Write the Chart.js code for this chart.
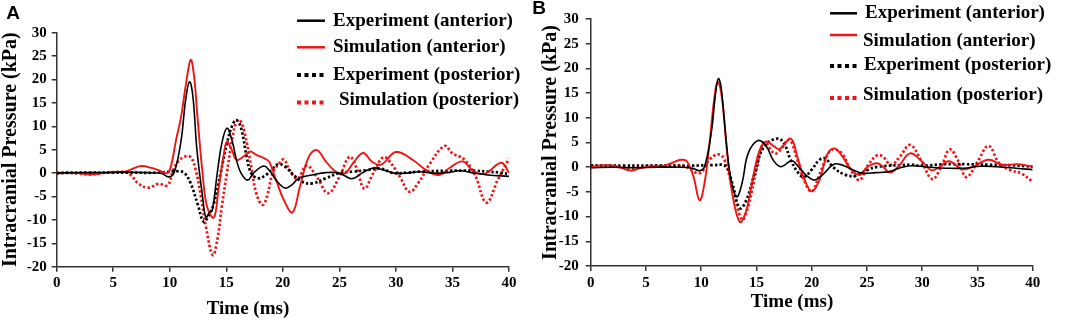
<!DOCTYPE html>
<html>
<head>
<meta charset="utf-8">
<script src="https://cdn.jsdelivr.net/npm/chart.js@4/dist/chart.umd.min.js"></script>
<style>
  body { margin: 0; background: #fff; }
  #wrap { position: relative; width: 1065px; height: 324px; }
  canvas { position: absolute; top: 0; }
</style>
</head>
<body>
<div id="wrap">
  <canvas id="chartA" width="530" height="324" style="left:0"></canvas>
  <canvas id="chartB" width="535" height="324" style="left:530px"></canvas>
</div>
<script>
// [time ms, pressure kPa]
const SERIES_LABELS = ['Experiment (anterior)', 'Simulation (anterior)', 'Experiment (posterior)', 'Simulation (posterior)'];
const X_TICKS = [0, 40, 5];   // min, max, step
const Y_TICKS = [-20, 30, 5];

const A_EXP_ANT = [[0,0],[2,0.1],[4,0.1],[6,0.2],[8,0.1],[9.3,-0.1],[9.9,-0.8],[10.4,0.2],[11,7],[11.4,15.6],[11.75,19.5],[12.05,16.3],[12.4,5],[12.9,-5],[13.2,-9.5],[13.5,-8.4],[13.75,-8],[14.2,0],[14.6,6.3],[15.05,9.6],[15.5,7],[15.9,2.8],[16.3,0],[16.9,-1.5],[17.4,0],[18.3,1.5],[18.8,0.6],[19.4,-1.5],[20.2,-3.2],[20.8,-2.5],[21.4,-1.1],[22.6,-0.4],[23.8,0.1],[25,0],[26.1,-1.2],[27,0],[28,1.1],[29,0.6],[29.8,0],[31,0],[32,0.3],[33.3,0],[34.5,0.1],[35.7,0.5],[36.9,0],[38.1,-0.4],[40,-0.7]];
const A_SIM_ANT = [[0,0],[1,0.1],[2,0],[3,-0.3],[4,0],[5,0.2],[6,0.3],[6.6,0.8],[7.4,1.5],[8.4,1.1],[9.2,0.4],[9.8,0],[10.1,1.4],[10.55,7],[11,12],[11.4,18.5],[11.85,24.2],[12.15,20.6],[12.45,12],[12.9,0],[13.3,-7.2],[13.9,-9.5],[14.3,-3.6],[14.75,3.5],[15.05,6.7],[15.5,4.9],[15.9,2.8],[16.5,3.5],[17.1,4.6],[17.65,3.9],[18.4,3.1],[18.8,2.4],[19.4,-1.5],[20.1,-5.8],[20.85,-8.4],[21.5,-3],[22.3,3.5],[23,4.9],[23.8,2.5],[24.7,0.3],[25.5,0],[26.2,2.1],[27.1,4.3],[27.9,2.4],[28.7,1.8],[30,4.5],[31.5,2.8],[32.7,0.6],[33.8,-0.4],[34.8,1.2],[35.9,2.5],[36.9,0.3],[37.9,-0.1],[39.3,2.2],[40,0.1]];
const A_EXP_POST = [[0,0],[3,0.1],[6,0.1],[9,0.1],[10.7,0.4],[11.3,0],[11.85,-2.2],[12.45,-6.5],[13,-10.4],[13.45,-9],[13.9,-6.5],[14.5,0],[15.05,6.3],[15.6,10.6],[15.95,11.3],[16.35,9.2],[16.8,3.5],[17.2,0],[17.8,-1.1],[18.5,-0.4],[19.1,1],[19.6,1.9],[20.2,1.4],[21,-0.5],[21.7,-1.85],[22.6,-2.2],[23.8,-1.1],[25,0],[26.2,0.3],[27.4,0.6],[28.6,1],[29.8,0],[31,0.1],[32,0.3],[34.5,0.5],[37,0.5],[38.2,0.3],[39.2,0.1],[40,-0.2]];
const A_SIM_POST = [[0,0],[1,0.1],[2,-0.1],[3,-0.3],[4,0],[5,0.2],[6,0.2],[6.6,-0.5],[7.2,-2.2],[8.1,-3.1],[9,-2.3],[9.8,-2.6],[10.3,0.6],[10.7,2.4],[11.3,3.5],[11.85,3.4],[12.3,0.6],[12.7,-4.3],[13.2,-11.5],[13.8,-17.5],[14.2,-14.3],[14.6,-7.2],[15.05,0],[15.5,7],[15.9,11],[16.2,11.3],[16.6,8.8],[17.2,1.4],[17.65,-4.3],[18.2,-6.8],[18.6,-5],[19.1,0],[19.7,2.1],[20.1,2.9],[20.6,0.6],[21.3,-1.2],[22.1,1.6],[23,-0.8],[24,-4.3],[25,-0.8],[25.9,3.5],[26.5,1.2],[27.2,-3.3],[28,0],[28.9,3.4],[29.6,2],[30.4,-1],[31.2,-4],[32,-2],[33,2],[34.3,5.8],[35,4.2],[36,3],[37,-0.5],[38,-6.3],[39,-1.5],[40,3.1]];

const B_EXP_ANT = [[0,-0.1],[2,0],[4,-0.1],[6,0],[8,0],[9.2,-0.2],[9.85,-0.7],[10.3,0.1],[10.9,6.8],[11.3,14.9],[11.55,17.9],[11.8,16.2],[12.2,6.8],[12.65,-1.9],[13.2,-6],[13.7,-3.2],[14.25,2.8],[15.15,5.4],[15.9,4.2],[16.5,1.5],[17.2,0.1],[18.2,1.3],[18.8,0.1],[19.55,-1.7],[20.3,-2.6],[21,-1.5],[22,0.6],[22.8,0.4],[23.7,-0.5],[24.6,-1.2],[25.8,-1.1],[27,-0.9],[28.2,0],[29.1,0.3],[30.7,0],[32.2,-0.2],[33.7,-0.2],[35.3,0.2],[36.7,0.1],[38.5,-0.2],[40,-0.5]];
const B_SIM_ANT = [[0,0],[0.7,0.3],[1.5,0.4],[2.5,0.1],[3.6,-0.7],[4.5,-0.2],[5.5,0.2],[6.5,0.2],[7.4,0.9],[8.2,1.5],[8.7,1.2],[9.3,-1.9],[9.85,-6.7],[10.3,-3.2],[10.75,4.8],[11.2,14.2],[11.5,17.2],[11.9,13.6],[12.35,2.8],[12.8,-5.2],[13.5,-11.1],[14.1,-8.6],[14.7,-1.9],[15.3,3.5],[15.9,5.2],[16.6,4.2],[17.1,3.7],[18.1,5.8],[18.7,2.1],[19.3,-2.2],[20,-4.9],[20.7,-2.6],[21.4,2.5],[22.05,3.8],[22.8,2.1],[23.4,0],[24.3,-1.6],[25,0],[25.9,0.8],[26.4,0.2],[27.1,-1.1],[27.9,0.3],[28.9,2.8],[30,1.1],[30.8,-0.6],[31.4,-0.2],[32.4,1.2],[33.6,-0.4],[34.5,0],[36,1.5],[37.2,0.5],[38.7,0.6],[40,0.1]];
const B_EXP_POST = [[0,0.3],[3,0.3],[6,0.3],[9,0.3],[11,0.4],[12.2,0.2],[12.8,-3.2],[13.5,-8.3],[14.1,-6.6],[14.85,-1.2],[15.7,4.2],[16.9,5.8],[17.5,4.8],[18.1,1.5],[18.8,-1.2],[19.3,-2],[20,-0.5],[20.7,1.5],[21.2,1.8],[22,-0.1],[23,-1.5],[24,-1.7],[25,-0.6],[26,0.1],[28,0.4],[29,0.5],[30,0.3],[32,0.6],[34,0.6],[36,0.5],[38,0.4],[40,0.1]];
const B_SIM_POST = [[0,0.3],[2,0.3],[3.5,-0.3],[5,0.2],[7,0.3],[8.5,0.2],[9.85,-1.2],[10.75,1.5],[11.5,2.6],[12.05,1.8],[12.8,-3.9],[13.7,-10.6],[14.25,-7.9],[15,-0.5],[15.7,5],[16.6,2.8],[17.05,3.2],[17.95,5.5],[18.7,1.5],[19.3,-2.6],[20,-4.9],[20.7,-1.5],[21.6,3.2],[22.1,3.6],[22.8,2.6],[23.4,0],[24.3,-2.6],[25.1,0.4],[25.9,2.4],[26.4,2.2],[27.2,0.5],[28,2.2],[28.9,4.5],[29.9,1.4],[30.9,-2.4],[31.7,0],[32.5,3.6],[33.3,1.1],[34,-2],[35,1.1],[36,4.3],[37,0.7],[38,-0.6],[39,-1.3],[40,-3]];

const RED = '#f01414';
const INK = '#000';
const AXIS = '#333';
const SERIF = '"Liberation Serif", "Times New Roman", serif';

// legend, axis title and panel letter drawn on top of the chart
const panelDecor = {
  id: 'panelDecor',
  afterDraw(chart, args, o) {
    const ctx = chart.ctx;
    ctx.save();
    ctx.fillStyle = INK;
    ctx.textBaseline = 'middle';

    ctx.font = 'bold 19px "Liberation Sans", Arial, sans-serif';
    ctx.textAlign = 'center';
    ctx.fillText(o.letter, o.letterX, o.letterY);

    ctx.font = 'bold 19px ' + SERIF;
    ctx.fillText(o.xTitle, o.xTitleX, o.xTitleY);

    ctx.textAlign = 'left';
    chart.data.datasets.forEach((ds, i) => {
      const r = o.rows[i];
      const dotted = ds.borderDash.length > 0;
      ctx.strokeStyle = ds.borderColor;
      ctx.lineWidth = dotted ? 4 : 2.5;
      ctx.setLineDash(dotted ? [4, 3.5] : []);
      ctx.beginPath();
      ctx.moveTo(o.lineX1, r[0]);
      ctx.lineTo(o.lineX2, r[0]);
      ctx.stroke();
      ctx.setLineDash([]);
      ctx.fillText(ds.label, r[2], r[1]);
    });
    ctx.restore();
  }
};

function toPts(arr) { return arr.map(p => ({ x: p[0], y: p[1] })); }

function makeDatasets(series) {
  const styles = [
    { color: INK, width: 1.6, dash: [] },
    { color: RED, width: 1.9, dash: [] },
    { color: INK, width: 2.7, dash: [2.4, 2.2] },
    { color: RED, width: 2.7, dash: [2.4, 2.2] },
  ];
  return series.map((s, i) => ({
    label: SERIES_LABELS[i],
    data: toPts(s),
    borderColor: styles[i].color,
    borderWidth: styles[i].width,
    borderDash: styles[i].dash,
    pointRadius: 0,
    tension: 0.4,
    fill: false,
  }));
}

function makeChart(id, series, lay, decor) {
  const tickFont = { family: SERIF, size: 15, weight: 'bold' };
  return new Chart(document.getElementById(id), {
    type: 'line',
    data: { datasets: makeDatasets(series) },
    plugins: [panelDecor],
    options: {
      responsive: false,
      animation: false,
      devicePixelRatio: 1,
      layout: { padding: { left: 0, top: lay.top, right: lay.right, bottom: 0 } },
      plugins: {
        legend: { display: false },
        tooltip: { enabled: false },
        panelDecor: decor,
      },
      scales: {
        x: {
          type: 'linear', min: X_TICKS[0], max: X_TICKS[1],
          ticks: { stepSize: X_TICKS[2], font: tickFont, color: INK, padding: lay.xPad, maxRotation: 0 },
          grid: { drawOnChartArea: false, drawTicks: true, tickLength: 5, color: AXIS, lineWidth: 1.5 },
          border: { display: true, color: AXIS, width: 1.5 },
          afterFit(s) { s.height = lay.xH; },
        },
        y: {
          min: Y_TICKS[0], max: Y_TICKS[1],
          ticks: { stepSize: Y_TICKS[2], font: tickFont, color: INK, padding: lay.yPad },
          grid: { drawOnChartArea: false, drawTicks: true, tickLength: 5, color: AXIS, lineWidth: 1.5 },
          border: { display: true, color: AXIS, width: 1.5 },
          title: {
            display: true, text: 'Intracranial Pressure (kPa)', color: INK,
            font: { family: SERIF, size: 20, weight: 'bold', lineHeight: 1 },
            padding: { top: lay.titlePad, bottom: 0 },
          },
          afterFit(s) { s.width = lay.yW; },
        },
      },
    },
  });
}

makeChart('chartA', [A_EXP_ANT, A_SIM_ANT, A_EXP_POST, A_SIM_POST],
  { top: 32.7, right: 21, xH: 57.3, yW: 56.7, xPad: 2, yPad: 5, titlePad: 1 },
  { letter: 'A', letterX: 13, letterY: 14, xTitle: 'Time (ms)', xTitleX: 248, xTitleY: 309,
    lineX1: 297, lineX2: 325,
    rows: [[20.7, 21, 333], [47.3, 47.5, 333], [75, 75, 333], [102.5, 100, 339]] });

makeChart('chartB', [B_EXP_ANT, B_SIM_ANT, B_EXP_POST, B_SIM_POST],
  { top: 19, right: 32.3, xH: 58, yW: 60.7, xPad: 3, yPad: 7, titlePad: 10.7 },
  { letter: 'B', letterX: 9, letterY: 9, xTitle: 'Time (ms)', xTitleX: 262, xTitleY: 302,
    lineX1: 300, lineX2: 327,
    rows: [[13.3, 13.5, 335], [35, 41, 333], [66, 65, 334], [98, 95.5, 333]] });
</script>
</body>
</html>
